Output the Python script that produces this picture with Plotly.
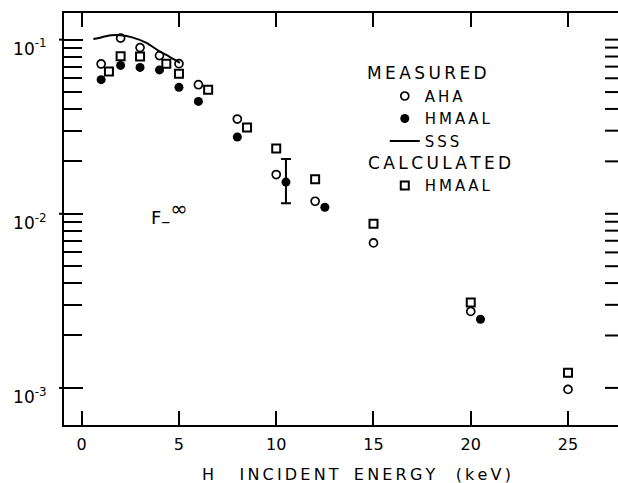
import plotly.graph_objects as go

# ---------------- data ----------------
aha_energy = [1, 2, 3, 4, 5, 6, 8, 10, 12, 15, 20, 25]
aha_frac = [0.0725, 0.102, 0.090, 0.081, 0.0728, 0.0551, 0.035, 0.0168, 0.0118, 0.0068, 0.00275, 0.00098]

hmaal_meas_energy = [1, 2, 3, 4, 5, 6, 8, 10.5, 12.5, 20.5]
hmaal_meas_frac = [0.0589, 0.0711, 0.0693, 0.067, 0.0532, 0.0442, 0.0276, 0.0152, 0.0109, 0.00248]
errbar_energy = [10.5]
errbar_frac = [0.0152]
errbar_plus = [0.0054]
errbar_minus = [0.0037]

sss_energy = [0.6, 1.0, 1.5, 2.0, 2.6, 3.3, 4.0, 4.5, 5.05]
sss_frac = [0.1009, 0.103, 0.106, 0.106, 0.103, 0.096, 0.0857, 0.080, 0.0735]

hmaal_calc_energy = [1.4, 2, 3, 4.35, 5, 6.5, 8.5, 10, 12, 15, 20, 25]
hmaal_calc_frac = [0.0657, 0.0802, 0.080, 0.0727, 0.0638, 0.0516, 0.0313, 0.0237, 0.0158, 0.00877, 0.00309, 0.00122]

x_ticks = [0, 5, 10, 15, 20, 25]
y_major = [1e-3, 1e-2, 1e-1]
y_major_text = ["10<sup>-3</sup>", "10<sup>-2</sup>", "10<sup>-1</sup>"]
y_minor = [k * d for d in (1e-3, 1e-2) for k in range(2, 10)]

FONT = "DejaVu Sans"
TS = "\u2009"   # thin space for lettering-style spacing
NB = "\u00a0"
PLOT_W = 554    # plot-area width in px (618 - left margin)
PLOT_H = 412


def spaced(word):
    return TS.join(word)


fig = go.Figure()

fig.add_trace(go.Scatter(
    x=aha_energy, y=aha_frac, mode="markers", name=spaced("AHA"), legendgroup="meas",
    marker=dict(symbol="circle-open", size=8, color="black", line=dict(width=1.7, color="black")),
))
fig.add_trace(go.Scatter(
    x=hmaal_meas_energy, y=hmaal_meas_frac, mode="markers", name=spaced("HMAAL"), legendgroup="meas",
    marker=dict(symbol="circle", size=9, color="black"),
))
fig.add_trace(go.Scatter(
    x=sss_energy, y=sss_frac, mode="lines", name=spaced("SSS"), legendgroup="meas",
    line=dict(color="black", width=2, shape="spline"),
))
fig.add_trace(go.Scatter(
    x=hmaal_calc_energy, y=hmaal_calc_frac, mode="markers", name=spaced("HMAAL"), legendgroup="calc",
    marker=dict(symbol="square-open", size=8, color="black", line=dict(width=2, color="black")),
))
# error bar for the 10.5 keV point
fig.add_trace(go.Scatter(
    x=errbar_energy, y=errbar_frac, mode="markers", showlegend=False, hoverinfo="skip",
    marker=dict(size=1, color="rgba(0,0,0,0)"),
    error_y=dict(type="data", symmetric=False, array=errbar_plus, arrayminus=errbar_minus,
                 color="black", thickness=2, width=5),
))

yrange = [-3.213, -0.847]

# right-hand frame ticks (no frame line on that side) and short outside stubs at decades
for v in y_major + y_minor:
    fig.add_shape(type="line", xref="paper", yref="y", x0=1 - 13 / PLOT_W, x1=1, y0=v, y1=v,
                  line=dict(color="black", width=2))
for v in y_major:
    fig.add_shape(type="line", xref="paper", yref="y", x0=-5 / PLOT_W, x1=0, y0=v, y1=v,
                  line=dict(color="black", width=2))

fig.add_annotation(
    x=3.45, y=-2.0, xref="x", yref="y", xanchor="left", yanchor="middle", showarrow=False,
    text="F<sub><span style='font-size:18px'>–</span></sub><sup><span style='font-size:21px'>∞</span></sup>",
    font=dict(size=18, family=FONT, color="black"),
)
# legend group headings
fig.add_annotation(
    x=0.543, y=0.855, xref="paper", yref="paper", xanchor="left", yanchor="middle", showarrow=False,
    text=spaced("MEASURED"), font=dict(size=17, family=FONT, color="black"),
)
fig.add_annotation(
    x=0.545, y=0.637, xref="paper", yref="paper", xanchor="left", yanchor="middle", showarrow=False,
    text=spaced("CALCULATED"), font=dict(size=17, family=FONT, color="black"),
)

title_text = ("H" + NB * 5 + spaced("INCIDENT") + NB * 3 + spaced("ENERGY")
              + NB * 4 + spaced("(keV)"))

fig.update_layout(
    width=618, height=483,
    margin=dict(l=64, r=0, t=13, b=58),
    paper_bgcolor="white", plot_bgcolor="white",
    font=dict(family=FONT, color="black", size=16),
    showlegend=True,
    legend=dict(x=0.579, y=0.838, xanchor="left", yanchor="top", bgcolor="rgba(0,0,0,0)",
                font=dict(size=15, family=FONT, color="black"), tracegroupgap=22,
                traceorder="grouped", itemwidth=30),
    xaxis=dict(
        range=[-0.91, 27.57], showgrid=False, zeroline=False,
        showline=True, linewidth=2, linecolor="black", mirror="ticks",
        ticks="inside", ticklen=14, tickwidth=2, tickcolor="black",
        tickvals=x_ticks, tickfont=dict(size=16, family=FONT, color="black"),
        ticklabelstandoff=4,
    ),
    yaxis=dict(
        type="log", range=yrange, showgrid=False, zeroline=False,
        showline=True, linewidth=2, linecolor="black",
        ticks="inside", ticklen=19, tickwidth=2, tickcolor="black",
        tickvals=y_major, ticktext=y_major_text,
        tickfont=dict(size=17, family=FONT, color="black"),
        ticklabelstandoff=12, ticklabelshift=9,
        minor=dict(ticks="inside", ticklen=18, tickwidth=2, tickcolor="black",
                   tickvals=y_minor, showgrid=False),
    ),
)
# x-axis title placed as a paper annotation so it sits right of centre as in the original
fig.add_annotation(
    x=(356 - 64) / PLOT_W, y=-(474 - 425) / PLOT_H, xref="paper", yref="paper",
    xanchor="center", yanchor="middle", showarrow=False,
    text=title_text, font=dict(size=16, family=FONT, color="black"),
)

fig.write_html("out.html")
